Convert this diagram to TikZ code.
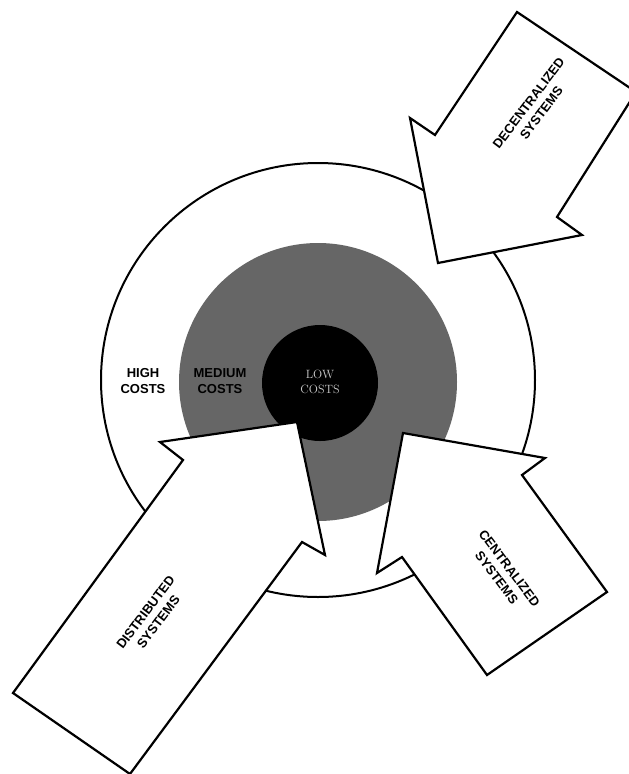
\documentclass[tikz,border=0pt]{standalone}
\usepackage{fontspec}
\setsansfont{Liberation Sans}
\begin{document}
\begin{tikzpicture}[x=1pt, y=-1pt,
    ring/.style={draw, line width=2pt, fill=white},
    zone/.style={fill=black!60},
    core/.style={fill=black},
    bigarrow/.style={draw, line width=2.2pt, fill=white, line join=miter},
    lbl/.style={align=center, font=\sffamily\bfseries\fontsize{13}{16}\selectfont},
    lowlbl/.style={align=center, text=black!20, font=\fontsize{12}{15}\selectfont}
]
\useasboundingbox (0,0) rectangle (629,774);
% cost rings
\draw[ring] (318,380) circle (217);
\fill[zone] (318,382) circle (139);
\fill[core] (320,383) circle (58);
\node[lbl] (high) at (143,381) {HIGH\\COSTS};
\node[lbl] (medium) at (220,381) {MEDIUM\\COSTS};
\node[lowlbl] (low) at (320,382) {LOW\\COSTS};
% system arrows
\begin{scope}
\clip (0,0) rectangle (629,774);
\draw[bigarrow] (517,12) -- (636,92) -- (557,217) -- (582,235) -- (438,263)
    -- (410,118) -- (435,135) -- cycle;
\draw[bigarrow] (130,774) -- (13,693) -- (183,460) -- (160,442) -- (297,422)
    -- (325,555) -- (302,542) -- cycle;
\draw[bigarrow] (403,433) -- (545,458) -- (522,475) -- (607,592) -- (487,675)
    -- (402,557) -- (377,573) -- cycle;
\end{scope}
\node[lbl, rotate=53] (decentral) at (535,108) {DECENTRALIZED\\SYSTEMS};
\node[lbl, rotate=53] (distrib) at (152,617) {DISTRIBUTED\\SYSTEMS};
\node[lbl, rotate=-53] (central) at (503,573) {CENTRALIZED\\SYSTEMS};
\end{tikzpicture}
\end{document}
